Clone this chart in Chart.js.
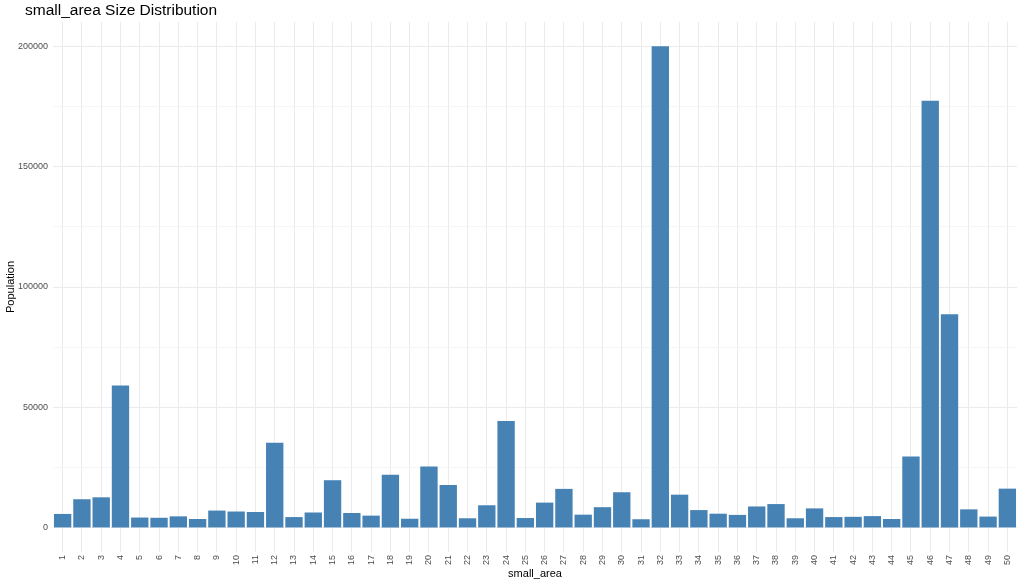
<!DOCTYPE html>
<html>
<head>
<meta charset="utf-8">
<script src="https://cdn.jsdelivr.net/npm/chart.js@4.4.1/dist/chart.umd.min.js"></script>
<style>
  html, body { margin: 0; padding: 0; background: #fff; }
  #wrap { position: relative; width: 1024px; height: 585px; }
  #title {
    position: absolute; left: 25px; top: 1px;
    font-family: "Liberation Sans", Arial, sans-serif;
    font-size: 15.5px; color: #000;
  }
</style>
</head>
<body>
<div id="wrap">
  <canvas id="chart" width="1024" height="585"></canvas>
  <div id="title">small_area Size Distribution</div>
</div>
<script>
const areas = Array.from({ length: 50 }, (_, i) => String(i + 1));
const population = [
    5800, 11900, 12700, 59100, 4300, 4200, 4800, 3700, 7200, 6800,
    6600, 35400, 4500, 6400, 19800, 6200, 5100, 22100, 3800, 25500,
    17800, 4000, 9400, 44400, 4100, 10500, 16200, 5500, 8600, 14800,
    3600, 199900, 13800, 7400, 5900, 5400, 8900, 9900, 4000, 8100,
    4500, 4600, 4900, 3700, 29600, 177300, 88700, 7700, 4700, 16300
];
const yTicks = [0, 25000, 50000, 75000, 100000, 125000, 150000, 175000, 200000];

const font = "'Liberation Sans', Arial, sans-serif";

new Chart(document.getElementById('chart').getContext('2d'), {
    type: 'bar',
    data: {
        labels: areas,
        datasets: [{
            data: population,
            backgroundColor: '#4682B4',
            borderWidth: 0,
            barPercentage: 0.9,
            categoryPercentage: 1.0
        }]
    },
    options: {
        responsive: false,
        animation: false,
        layout: { padding: { top: 22, right: 7, left: 1, bottom: 0 } },
        plugins: {
            legend: { display: false },
            tooltip: { enabled: false }
        },
        scales: {
            x: {
                offset: true,
                grid: { offset: false, color: '#EBEBEB', lineWidth: 1, drawTicks: false },
                border: { display: false },
                ticks: {
                    minRotation: 90, maxRotation: 90, autoSkip: false,
                    padding: 3,
                    color: '#4D4D4D',
                    font: { family: font, size: 9 }
                },
                title: {
                    display: true, text: 'small_area', color: '#000',
                    font: { family: font, size: 11 },
                    padding: { top: 0, bottom: 4 }
                },
                afterFit: (scale) => { scale.height = 33; }
            },
            y: {
                min: -10000,
                max: 210000,
                afterBuildTicks: (scale) => {
                    scale.ticks = yTicks.map(v => ({ value: v }));
                },
                grid: {
                    drawTicks: false,
                    color: (ctx) => (ctx.tick && ctx.tick.value % 50000 === 0) ? '#EBEBEB' : '#F4F4F4',
                    lineWidth: (ctx) => (ctx.tick && ctx.tick.value % 50000 === 0) ? 1 : 0.8
                },
                border: { display: false },
                ticks: {
                    padding: 5,
                    color: '#4D4D4D',
                    font: { family: font, size: 9 },
                    callback: (v) => (v % 50000 === 0 ? String(v) : '')
                },
                title: {
                    display: true, text: 'Population', color: '#000',
                    font: { family: font, size: 11 },
                    padding: { top: 3, bottom: 0 }
                },
                afterFit: (scale) => { scale.width = 52; }
            }
        }
    }
});
</script>
</body>
</html>
